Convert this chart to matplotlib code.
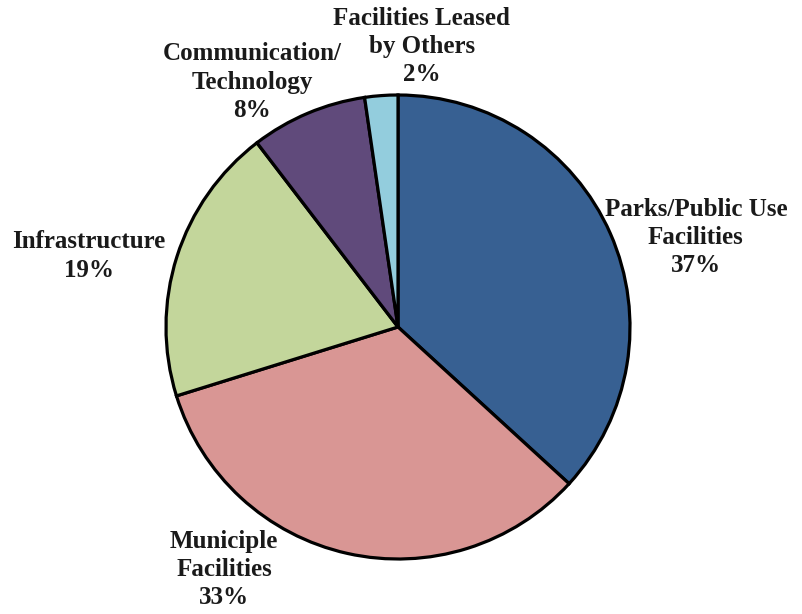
import matplotlib
matplotlib.use("Agg")
import matplotlib.pyplot as plt

# Data
categories = ["Parks/Public Use\nFacilities", "Municiple\nFacilities", "Infrastructure",
              "Communication/\nTechnology", "Facilities Leased\nby Others"]
values = [36.8, 33.4, 19.4, 8.1, 2.3]
colors = ["#376092", "#D99694", "#C3D69B", "#604A7B", "#93CDDD"]

# Layout (label centres in pie-radius units)
label_pos = [(1.284, 0.384), (-0.75, -1.047), (-1.332, 0.306), (-0.629, 1.056), (0.103, 1.211)]

fig = plt.figure(figsize=(8.02, 6.14), dpi=100)
ax = fig.add_axes([0, 0, 1, 1])
ax.pie(values, colors=colors, startangle=90, counterclock=False, radius=1.0,
       wedgeprops=dict(edgecolor="black", linewidth=2.3))

total = sum(values)
for cat, v, (x, y) in zip(categories, values, label_pos):
    ax.text(x, y, f"{cat}\n{round(v / total * 100):d}%", ha="center", va="center",
            multialignment="center", fontsize=18, fontweight="bold",
            family="Liberation Serif", linespacing=1.28, color="#1a1a1a")

cx, cy, r = 398, 327, 232
ax.set_xlim(-cx / r, (802 - cx) / r)
ax.set_ylim(-(614 - cy) / r, cy / r)
ax.set_aspect("equal", adjustable="box")
ax.axis("off")
fig.savefig("out.png", dpi=100, facecolor="white")
